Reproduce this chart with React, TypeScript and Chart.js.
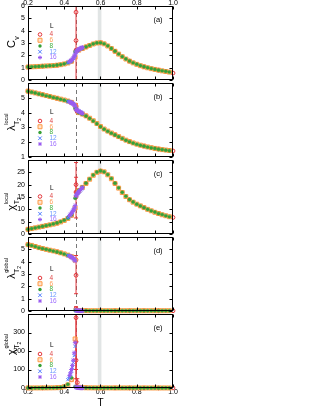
import React, { useEffect, useRef } from "react";
import { Chart, registerables } from "chart.js";
Chart.register(...registerables);

// ---------------- data ----------------
const T_GRID = [0.20,0.22,0.24,0.26,0.28,0.30,0.32,0.34,0.36,0.38,0.40,0.42,0.44,0.46,0.48,0.50,0.52,0.54,0.56,0.58,0.60,0.62,0.64,0.66,0.68,0.70,0.72,0.74,0.76,0.78,0.80,0.82,0.84,0.86,0.88,0.90,0.92,0.94,0.96,0.98];
const T_L12 = [0.42,0.425,0.43,0.435,0.44,0.445,0.45,0.455,0.46,0.465,0.47,0.475,0.48,0.485,0.49,0.495,0.50];
const T_L16 = [0.43,0.435,0.44,0.445,0.45,0.455,0.46,0.465,0.47,0.475,0.48,0.485,0.49,0.495,0.50];
const T_L4 = [0.20,0.28,0.36,0.44,0.465,0.465,0.465,0.472,0.52,0.60,0.68,0.76,0.84,0.92,1.00];

const X_TICKS = [0.2,0.3,0.4,0.5,0.6,0.7,0.8,0.9,1.0];
const T_STAR = 0.465;
const BAND = [0.585, 0.605];
const LEGEND_L = ["4", "6", "8", "12", "16"];

// (a) C_v
const CV_L4 = [1.05,1.12,1.20,1.52,5.5,3.2,2.4,2.45,2.68,3.02,2.33,1.53,1.07,0.80,0.56];
const CV_L4_LO = [null,null,null,null,0,null,2.3,null,null,null,null,null,null,null,null];
const CV_L4_HI = [null,null,null,null,6.5,null,2.5,null,null,null,null,null,null,null,null];
const CV_L6 = [1.05,1.07,1.08,1.10,1.12,1.14,1.15,1.17,1.20,1.24,1.30,1.38,1.52,1.85,2.42,2.55,2.68,2.80,2.92,3.00,3.02,2.93,2.76,2.55,2.33,2.10,1.89,1.70,1.53,1.39,1.27,1.16,1.07,0.99,0.92,0.86,0.80,0.74,0.69,0.64];
const CV_L8 = [1.06,1.07,1.09,1.10,1.12,1.13,1.16,1.17,1.21,1.25,1.31,1.40,1.55,2.30,2.43,2.56,2.69,2.81,2.93,3.01,3.02,2.94,2.77,2.56,2.34,2.11,1.90,1.71,1.54,1.40,1.28,1.17,1.08,1.00,0.93,0.86,0.80,0.75,0.70,0.65];
const CV_L12 = [1.40,1.44,1.48,1.53,1.58,1.65,1.74,1.86,2.02,2.22,2.34,2.42,2.48,2.52,2.56,2.60,2.63];
const CV_L16 = [1.50,1.55,1.60,1.68,1.78,1.92,2.10,2.28,2.36,2.43,2.49,2.53,2.57,2.60,2.64];

// (b) lambda local
const LL_L4 = [5.45,5.21,4.97,4.69,4.45,4.38,4.20,4.05,3.78,3.06,2.50,2.04,1.74,1.54,1.41];
const LL_L4_LO = [null,null,null,null,4.35,null,null,null,null,null,null,null,null,null,null];
const LL_L4_HI = [null,null,null,null,4.6,null,null,null,null,null,null,null,null,null,null];
const LL_L6 = [5.45,5.39,5.33,5.27,5.21,5.15,5.09,5.03,4.97,4.91,4.85,4.78,4.69,4.50,4.00,3.90,3.78,3.62,3.45,3.26,3.06,2.89,2.75,2.62,2.50,2.38,2.26,2.14,2.04,1.95,1.87,1.80,1.74,1.68,1.63,1.58,1.54,1.50,1.47,1.44];
const LL_L8 = [5.44,5.38,5.33,5.26,5.21,5.14,5.09,5.02,4.97,4.90,4.84,4.77,4.68,4.30,3.99,3.89,3.77,3.61,3.44,3.25,3.05,2.88,2.74,2.61,2.49,2.37,2.25,2.13,2.03,1.94,1.86,1.79,1.73,1.67,1.62,1.58,1.53,1.50,1.46,1.43];
const LL_L12 = [4.76,4.74,4.72,4.70,4.67,4.64,4.60,4.55,4.48,4.25,4.18,4.14,4.10,4.07,4.03,4.00,3.96];
const LL_L16 = [4.72,4.69,4.66,4.63,4.58,4.52,4.44,4.22,4.16,4.12,4.09,4.05,4.02,3.98,3.95];

// (c) chi local
const CL_L4 = [1.9,3.1,4.4,7.6,17.0,20.0,15.0,16.5,20.5,25.5,20.5,13.9,10.7,8.3,6.7];
const CL_L4_LO = [null,null,null,null,6.5,17,null,null,null,null,null,null,null,null,null];
const CL_L4_HI = [null,null,null,null,29,23,null,null,null,null,null,null,null,null,null];
const CL_L6 = [1.9,2.2,2.5,2.8,3.1,3.4,3.7,4.0,4.4,4.9,5.5,6.3,7.6,10.5,17.6,18.9,20.5,22.2,23.8,25.0,25.5,25.2,24.0,22.4,20.5,18.6,16.8,15.2,13.9,12.9,12.1,11.4,10.7,10.0,9.4,8.8,8.3,7.8,7.4,7.0];
const CL_L8 = [1.9,2.2,2.5,2.8,3.1,3.4,3.7,4.1,4.5,5.0,5.6,6.4,7.8,14.5,17.7,19.0,20.6,22.3,23.9,25.1,25.6,25.2,24.1,22.5,20.6,18.7,16.9,15.3,14.0,13.0,12.1,11.4,10.7,10.0,9.4,8.9,8.3,7.9,7.4,7.0];
const CL_L12 = [6.6,7.0,7.4,7.8,8.3,8.8,9.4,10.1,11.0,15.3,15.9,16.4,16.9,17.4,17.9,18.3,18.7];
const CL_L16 = [7.5,8.0,8.5,9.0,9.6,10.4,11.5,15.6,16.1,16.6,17.1,17.6,18.0,18.4,18.8];

// (d) lambda global
const LG_L4 = [5.38,5.07,4.80,4.40,2.9,4.15,0.2,0.08,0.02,0.02,0.02,0.02,0.02,0.02,0.02];
const LG_L4_LO = [null,null,null,null,1.4,null,0.05,null,null,null,null,null,null,null,null];
const LG_L4_HI = [null,null,null,null,4.5,null,0.35,null,null,null,null,null,null,null,null];
const LG_L6 = [5.38,5.32,5.23,5.14,5.07,5.00,4.93,4.87,4.80,4.72,4.63,4.53,4.40,4.12,0.03,0.03,0.03,0.02,0.02,0.02,0.02,0.02,0.02,0.02,0.02,0.02,0.02,0.02,0.02,0.02,0.02,0.02,0.02,0.02,0.02,0.02,0.02,0.02,0.02,0.02];
const LG_L8 = [5.37,5.31,5.23,5.13,5.06,5.00,4.93,4.86,4.79,4.71,4.62,4.52,4.38,0.05,0.03,0.03,0.03,0.02,0.02,0.02,0.02,0.02,0.02,0.02,0.02,0.02,0.02,0.02,0.02,0.02,0.02,0.02,0.02,0.02,0.02,0.02,0.02,0.02,0.02,0.02];
const LG_L12 = [4.52,4.49,4.46,4.42,4.38,4.33,4.27,4.20,4.10,0.06,0.04,0.03,0.03,0.02,0.02,0.02,0.02];
const LG_L16 = [4.45,4.41,4.37,4.32,4.26,4.18,4.06,0.04,0.03,0.03,0.02,0.02,0.02,0.02,0.02];

// (e) chi global
const CG_L4 = [0.3,0.5,1.5,45,380,250,150,30,1.2,0.5,0.4,0.3,0.2,0.2,0.2];
const CG_L4_LO = [null,null,null,null,0,100,50,8,null,null,null,null,null,null,null];
const CG_L4_HI = [null,null,null,null,450,400,250,50,null,null,null,null,null,null,null];
const CG_L6 = [0.3,0.3,0.4,0.4,0.5,0.6,0.8,1.0,1.5,3,7,17,45,265,4,2,1.2,0.9,0.7,0.6,0.5,0.5,0.4,0.4,0.4,0.3,0.3,0.3,0.3,0.3,0.3,0.2,0.2,0.2,0.2,0.2,0.2,0.2,0.2,0.2];
const CG_L8 = [0.3,0.3,0.4,0.4,0.5,0.6,0.8,1.1,1.6,3.5,8,20,55,8,3,1.5,1.0,0.8,0.6,0.5,0.5,0.4,0.4,0.4,0.3,0.3,0.3,0.3,0.3,0.3,0.3,0.2,0.2,0.2,0.2,0.2,0.2,0.2,0.2,0.2];
const CG_L12 = [45,52,62,75,92,112,138,175,225,4,2,1.5,1.2,1.0,0.8,0.7,0.6];
const CG_L16 = [68,82,100,122,150,190,245,5,3,2,1.5,1.2,1.0,0.8,0.7];

// ---------------- styles / layout ----------------
const FONT = '"Liberation Sans", Arial, sans-serif';
const COL = { l4: "#e3373c", l6: "#ff9a45", l8: "#36a036", l12: "#4f7dff", l16: "#9a5cf0" };
const TXT = { l4: "#e04a4a", l6: "#ff9d55", l8: "#40ad40", l12: "#6a98ff", l16: "#a070ff" };
const CANVAS_W = 180;
const PLOT_LEFT = 28;
const PLOT_RIGHT = 173;
const PANEL_H = 74;

type Title = { main: string; sup?: string; sub: string; sub2?: string };
type Panel = {
  id: string; top: number; min: number; max: number; step: number;
  hideTop: boolean; topAxis: boolean; bottomAxis: boolean;
  label: string; title: Title; titleY: number; legL: number; legFirst: number;
  l4: number[]; l4lo: (number | null)[]; l4hi: (number | null)[];
  l6: number[]; l8: number[]; l12: number[]; l16: number[];
};

const PANELS: Panel[] = [
  { id: "a", top: 6, min: 0, max: 6, step: 1, hideTop: false, topAxis: true, bottomAxis: false, label: "(a)",
    title: { main: "C", sub: "v" }, titleY: 38, legL: 20, legFirst: 28.5,
    l4: CV_L4, l4lo: CV_L4_LO, l4hi: CV_L4_HI, l6: CV_L6, l8: CV_L8, l12: CV_L12, l16: CV_L16 },
  { id: "b", top: 83, min: 1, max: 6, step: 1, hideTop: true, topAxis: false, bottomAxis: false, label: "(b)",
    title: { main: "λ", sup: "local", sub: "T", sub2: "2" }, titleY: 45, legL: 29, legFirst: 38,
    l4: LL_L4, l4lo: LL_L4_LO, l4hi: LL_L4_HI, l6: LL_L6, l8: LL_L8, l12: LL_L12, l16: LL_L16 },
  { id: "c", top: 160, min: 0, max: 30, step: 5, hideTop: true, topAxis: false, bottomAxis: false, label: "(c)",
    title: { main: "χ", sup: "local", sub: "T", sub2: "2" }, titleY: 47.5, legL: 28.5, legFirst: 36.5,
    l4: CL_L4, l4lo: CL_L4_LO, l4hi: CL_L4_HI, l6: CL_L6, l8: CL_L8, l12: CL_L12, l16: CL_L16 },
  { id: "d", top: 237, min: 0, max: 6, step: 1, hideTop: true, topAxis: false, bottomAxis: false, label: "(d)",
    title: { main: "λ", sup: "global", sub: "T", sub2: "2" }, titleY: 39, legL: 32, legFirst: 41,
    l4: LG_L4, l4lo: LG_L4_LO, l4hi: LG_L4_HI, l6: LG_L6, l8: LG_L8, l12: LG_L12, l16: LG_L16 },
  { id: "e", top: 314, min: 0, max: 400, step: 100, hideTop: true, topAxis: false, bottomAxis: true, label: "(e)",
    title: { main: "χ", sup: "global", sub: "T", sub2: "2" }, titleY: 38, legL: 31, legFirst: 40,
    l4: CG_L4, l4lo: CG_L4_LO, l4hi: CG_L4_HI, l6: CG_L6, l8: CG_L8, l12: CG_L12, l16: CG_L16 },
];

function pts(xs: number[], ys: number[]) {
  return xs.map((x, i) => ({ x, y: ys[i] }));
}

function drawSym(ctx: CanvasRenderingContext2D, kind: string, x: number, y: number, color: string) {
  ctx.save();
  ctx.strokeStyle = color; ctx.fillStyle = color; ctx.lineWidth = 1;
  ctx.beginPath();
  if (kind === "l4") { ctx.arc(x, y, 1.8, 0, Math.PI * 2); ctx.stroke(); }
  else if (kind === "l6") { ctx.fillStyle = "rgba(255,190,140,0.45)"; ctx.rect(x - 2, y - 2, 4, 4); ctx.fill(); ctx.stroke(); }
  else if (kind === "l8") { ctx.arc(x, y, 1.7, 0, Math.PI * 2); ctx.fill(); }
  else if (kind === "l12") { const r = 1.8; ctx.moveTo(x - r, y - r); ctx.lineTo(x + r, y + r); ctx.moveTo(x - r, y + r); ctx.lineTo(x + r, y - r); ctx.stroke(); }
  else { const r = 2; ctx.moveTo(x - r, y); ctx.lineTo(x + r, y); ctx.moveTo(x, y - r); ctx.lineTo(x, y + r);
    const q = 1.4; ctx.moveTo(x - q, y - q); ctx.lineTo(x + q, y + q); ctx.moveTo(x - q, y + q); ctx.lineTo(x + q, y - q); ctx.stroke(); }
  ctx.restore();
}

// main glyph centred on (cx, cy); super/subscripts follow it (upwards on the page)
function drawYTitle(ctx: CanvasRenderingContext2D, cx: number, cy: number, t: Title) {
  ctx.save();
  ctx.translate(cx, cy);
  ctx.rotate(-Math.PI / 2);
  ctx.fillStyle = "#000";
  ctx.textAlign = "left";
  ctx.textBaseline = "alphabetic";
  const fMain = `11px ${FONT}`, fSup = `5.5px ${FONT}`, fSub = `7px ${FONT}`, fSub2 = `5px ${FONT}`;
  ctx.font = fMain; const wm = ctx.measureText(t.main).width;
  ctx.font = fSub; const wsub = ctx.measureText(t.sub).width;
  const x0 = -wm / 2;
  ctx.font = fMain; ctx.fillText(t.main, x0, 4);
  if (t.sup) { ctx.font = fSup; ctx.fillText(t.sup, x0 + wm + 0.5, -3.5); }
  ctx.font = fSub; ctx.fillText(t.sub, x0 + wm + 0.3, 7.5);
  if (t.sub2) { ctx.font = fSub2; ctx.fillText(t.sub2, x0 + wm + wsub + 0.3, 9.5); }
  ctx.restore();
}

const decoPlugin = {
  id: "panelDeco",
  beforeDatasetsDraw(chart: any, _args: any, opts: any) {
    const p: Panel = opts.panel;
    const { ctx, chartArea: a } = chart;
    const xs = chart.scales.x, ys = chart.scales.y;
    ctx.save();
    ctx.beginPath();
    ctx.rect(a.left, a.top, a.right - a.left, a.bottom - a.top);
    ctx.clip();
    const b0 = xs.getPixelForValue(BAND[0]), b1 = xs.getPixelForValue(BAND[1]);
    ctx.fillStyle = "#e1e5e5";
    ctx.fillRect(b0, a.top, b1 - b0, a.bottom - a.top);
    const xd = Math.round(xs.getPixelForValue(T_STAR)) + 0.5;
    ctx.strokeStyle = "#555";
    ctx.lineWidth = 0.8;
    ctx.setLineDash([4, 3]);
    ctx.beginPath(); ctx.moveTo(xd, a.top); ctx.lineTo(xd, a.bottom); ctx.stroke();
    ctx.setLineDash([]);
    // error bars for L = 4
    ctx.strokeStyle = COL.l4;
    ctx.lineWidth = 1;
    T_L4.forEach((t, i) => {
      const lo = p.l4lo[i], hi = p.l4hi[i];
      if (lo == null || hi == null) return;
      const px = xs.getPixelForValue(t);
      const y0 = ys.getPixelForValue(lo), y1 = ys.getPixelForValue(hi);
      ctx.beginPath();
      ctx.moveTo(px, y0); ctx.lineTo(px, y1);
      ctx.moveTo(px - 2, y0); ctx.lineTo(px + 2, y0);
      ctx.moveTo(px - 2, y1); ctx.lineTo(px + 2, y1);
      ctx.stroke();
    });
    ctx.restore();
  },
  afterDatasetsDraw(chart: any, _args: any, opts: any) {
    const p: Panel = opts.panel;
    const { ctx, chartArea: a } = chart;
    const xs = chart.scales.x, ys = chart.scales.y;
    ctx.save();
    // frame
    const L = Math.round(a.left) + 0.5, R = Math.round(a.right) - 0.5;
    const T = Math.round(a.top) + 0.5, B = Math.round(a.bottom) - 0.5;
    ctx.strokeStyle = "#000";
    ctx.lineWidth = 1;
    ctx.strokeRect(L, T, R - L, B - T);
    // inward ticks
    const tl = 3;
    ctx.beginPath();
    X_TICKS.forEach((v) => {
      const px = Math.round(xs.getPixelForValue(v)) + 0.5;
      ctx.moveTo(px, B); ctx.lineTo(px, B - tl);
      ctx.moveTo(px, T); ctx.lineTo(px, T + tl);
    });
    for (let v = p.min; v <= p.max + 1e-9; v += p.step) {
      const py = Math.round(ys.getPixelForValue(v)) + 0.5;
      ctx.moveTo(L, py); ctx.lineTo(L + tl, py);
      ctx.moveTo(R, py); ctx.lineTo(R - tl, py);
    }
    ctx.stroke();
    // legend
    ctx.textBaseline = "middle";
    ctx.textAlign = "left";
    ctx.font = `6.5px ${FONT}`;
    ctx.fillStyle = "#000";
    const top = a.top;
    ctx.fillText("L", 50, top + p.legL);
    const keys = ["l4", "l6", "l8", "l12", "l16"];
    keys.forEach((k, i) => {
      const y = top + p.legFirst + i * 5.75;
      drawSym(ctx, k, 40, y, (COL as any)[k]);
      ctx.fillStyle = (TXT as any)[k];
      ctx.fillText(LEGEND_L[i], 49.5, y);
    });
    // panel label
    ctx.fillStyle = "#000";
    ctx.font = `7.5px ${FONT}`;
    ctx.textAlign = "center";
    ctx.fillText(p.label, 158, top + 14);
    // y title
    drawYTitle(ctx, 11, top + p.titleY, p.title);
    // x title
    if (p.bottomAxis) {
      ctx.font = `10px ${FONT}`;
      ctx.textAlign = "center";
      ctx.textBaseline = "middle";
      ctx.fillStyle = "#000";
      ctx.fillText("T", (a.left + a.right) / 2, a.bottom + 15);
    }
    ctx.restore();
  },
};

function xLabel(v: number) {
  const k = Math.round(v * 10);
  return k % 2 === 0 ? (k / 10).toFixed(1) : "";
}

function PanelChart({ p }: { p: Panel }) {
  const ref = useRef<HTMLCanvasElement>(null);
  const extraBottom = p.bottomAxis ? 21 : 6;
  const canvasTop = p.top - 6;
  const h = 6 + PANEL_H + extraBottom;
  useEffect(() => {
    const tickFont = { family: FONT, size: 7 };
    const scales: any = {
      x: {
        type: "linear", min: 0.2, max: 1.0, display: p.bottomAxis, position: "bottom",
        grid: { display: false, drawTicks: false }, border: { display: false },
        ticks: { stepSize: 0.1, autoSkip: false, maxRotation: 0, font: tickFont, color: "#000", padding: 0, callback: (v: any) => xLabel(Number(v)) },
        afterFit: (s: any) => { s.height = p.bottomAxis ? 21 : 0; s.paddingLeft = 0; s.paddingRight = 0; },
      },
      y: {
        type: "linear", min: p.min, max: p.max, position: "left",
        grid: { display: false, drawTicks: false }, border: { display: false },
        ticks: { stepSize: p.step, autoSkip: false, font: tickFont, color: "#000", padding: 3,
          callback: (v: any) => (p.hideTop && Number(v) === p.max ? "" : String(v)) },
        afterFit: (s: any) => { s.width = PLOT_LEFT; s.paddingTop = 0; s.paddingBottom = 0; },
      },
    };
    if (p.topAxis) {
      scales.x2 = {
        type: "linear", min: 0.2, max: 1.0, position: "top",
        grid: { display: false, drawTicks: false }, border: { display: false },
        ticks: { stepSize: 0.1, autoSkip: false, maxRotation: 0, font: tickFont, color: "#000", padding: -1, callback: (v: any) => xLabel(Number(v)) },
        afterFit: (s: any) => { s.height = 6; s.paddingLeft = 0; s.paddingRight = 0; },
      };
    }
    const common = { showLine: false, clip: 4 };
    const chart = new Chart(ref.current as HTMLCanvasElement, {
      type: "scatter",
      data: {
        datasets: [
          { ...common, label: "16", data: pts(T_L16, p.l16), pointStyle: "star", pointRadius: 2.3, pointBorderColor: COL.l16, pointBackgroundColor: COL.l16, pointBorderWidth: 1, order: 1 },
          { ...common, label: "12", data: pts(T_L12, p.l12), pointStyle: "crossRot", pointRadius: 2.2, pointBorderColor: COL.l12, pointBackgroundColor: COL.l12, pointBorderWidth: 1, order: 2 },
          { ...common, label: "8", data: pts(T_GRID, p.l8), pointStyle: "circle", pointRadius: 1.6, pointBorderColor: COL.l8, pointBackgroundColor: COL.l8, pointBorderWidth: 0.5, order: 3 },
          { ...common, label: "6", data: pts(T_GRID, p.l6), pointStyle: "rect", pointRadius: 2.8, pointBorderColor: COL.l6, pointBackgroundColor: "rgba(255,190,140,0.45)", pointBorderWidth: 1, order: 4 },
          { ...common, label: "4", data: pts(T_L4, p.l4), pointStyle: "circle", pointRadius: 1.9, pointBorderColor: COL.l4, pointBackgroundColor: "rgba(0,0,0,0)", pointBorderWidth: 1, order: 5 },
        ] as any,
      },
      options: {
        responsive: false,
        animation: false,
        events: [],
        layout: { padding: { left: 0, right: CANVAS_W - PLOT_RIGHT, top: p.topAxis ? 0 : 6, bottom: p.bottomAxis ? 0 : 6 } },
        scales,
        plugins: { legend: { display: false }, tooltip: { enabled: false }, panelDeco: { panel: p } } as any,
      },
      plugins: [decoPlugin as any],
    });
    return () => chart.destroy();
  }, []);
  return (
    <div style={{ position: "absolute", left: 0, top: canvasTop, width: CANVAS_W, height: h }}>
      <canvas ref={ref} width={CANVAS_W} height={h} style={{ width: CANVAS_W, height: h, display: "block" }} />
    </div>
  );
}

export default function App() {
  return (
    <div style={{ position: "absolute", left: 0, top: 0, width: 316, height: 409, background: "#fff", overflow: "hidden" }}>
      {PANELS.map((p) => (
        <PanelChart key={p.id} p={p} />
      ))}
    </div>
  );
}
